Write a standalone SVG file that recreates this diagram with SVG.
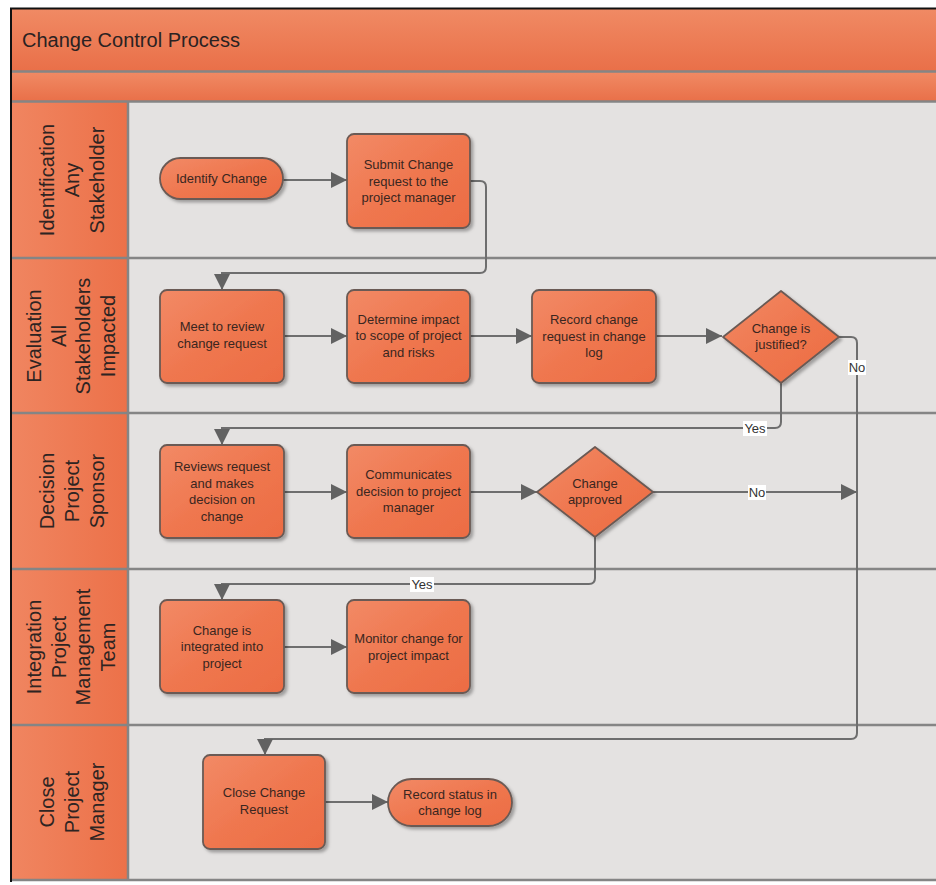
<svg xmlns="http://www.w3.org/2000/svg" width="936" height="885" viewBox="0 0 936 885">
<defs>
<linearGradient id="gBar" x1="0" y1="0" x2="0" y2="1">
<stop offset="0" stop-color="#f08a64"/>
<stop offset="1" stop-color="#e96f48"/>
</linearGradient>
<linearGradient id="gNode" x1="0" y1="0" x2="1" y2="1">
<stop offset="0" stop-color="#f28a66"/>
<stop offset="0.5" stop-color="#ef774f"/>
<stop offset="1" stop-color="#ec6c43"/>
</linearGradient>
<linearGradient id="gLane" x1="0" y1="0" x2="1" y2="0">
<stop offset="0" stop-color="#f08560"/>
<stop offset="1" stop-color="#ec7149"/>
</linearGradient>
<filter id="sh" x="-10%" y="-10%" width="130%" height="130%">
<feDropShadow dx="2.5" dy="2.5" stdDeviation="1.5" flood-color="#000" flood-opacity="0.3"/>
</filter>
<marker id="arr" viewBox="0 0 16 16" refX="16" refY="8" markerWidth="16" markerHeight="16" markerUnits="userSpaceOnUse" orient="auto">
<path d="M0,0 L16,8 L0,16 Z" fill="#626262"/>
</marker>
<style>
.node{fill:url(#gNode);stroke:#6a5a54;stroke-width:1.8;filter:url(#sh);stroke-linejoin:round}
.nt{font-family:"Liberation Sans",Arial,sans-serif;font-size:13px;fill:#3a2620;text-anchor:middle}
.lt{font-family:"Liberation Sans",Arial,sans-serif;font-size:20px;fill:#2e2422;text-anchor:middle;dominant-baseline:central}
.sep{stroke:#858585;stroke-width:2.5}
.con{fill:none;stroke:#6e6e6e;stroke-width:2}
.lbl{font-family:"Liberation Sans",Arial,sans-serif;font-size:13px;fill:#333;text-anchor:middle}
.lblbg{fill:#ffffff}
</style>
</defs>
<rect x="0" y="0" width="936" height="885" fill="#ffffff"/>
<g id="frame">
<rect x="12" y="9" width="924" height="63" fill="url(#gBar)"/>
<rect x="12" y="72" width="924" height="30" fill="url(#gBar)"/>
<rect x="128" y="102" width="808" height="778" fill="#e4e2e1"/>
<rect x="12" y="102" width="116" height="778" fill="url(#gLane)"/>
<line class="sep" x1="12" y1="71.5" x2="936" y2="71.5"/>
<line class="sep" x1="12" y1="101.5" x2="936" y2="101.5"/>
<line class="sep" x1="12" y1="258" x2="936" y2="258"/>
<line class="sep" x1="12" y1="413" x2="936" y2="413"/>
<line class="sep" x1="12" y1="569" x2="936" y2="569"/>
<line class="sep" x1="12" y1="725" x2="936" y2="725"/>
<line class="sep" x1="12" y1="880" x2="936" y2="880"/>
<line class="sep" x1="128" y1="102" x2="128" y2="880"/>
<line x1="10" y1="8.5" x2="936" y2="8.5" stroke="#111" stroke-width="2"/>
<line x1="11" y1="8" x2="11" y2="882" stroke="#111" stroke-width="2"/>
<text x="22" y="47" font-family="'Liberation Sans',Arial,sans-serif" font-size="20" fill="#2a2222">Change Control Process</text>
</g>
<g id="lane-identification">
<text class="lt" transform="translate(47,180) rotate(-90)">Identification</text>
<text class="lt" transform="translate(72,180) rotate(-90)">Any</text>
<text class="lt" transform="translate(97,180) rotate(-90)">Stakeholder</text>
</g>
<g id="lane-evaluation">
<text class="lt" transform="translate(34,336) rotate(-90)">Evaluation</text>
<text class="lt" transform="translate(59,336) rotate(-90)">All</text>
<text class="lt" transform="translate(83,336) rotate(-90)">Stakeholders</text>
<text class="lt" transform="translate(108,336) rotate(-90)">Impacted</text>
</g>
<g id="lane-decision">
<text class="lt" transform="translate(47,491) rotate(-90)">Decision</text>
<text class="lt" transform="translate(72,491) rotate(-90)">Project</text>
<text class="lt" transform="translate(97,491) rotate(-90)">Sponsor</text>
</g>
<g id="lane-integration">
<text class="lt" transform="translate(34,647) rotate(-90)">Integration</text>
<text class="lt" transform="translate(59,647) rotate(-90)">Project</text>
<text class="lt" transform="translate(83,647) rotate(-90)">Management</text>
<text class="lt" transform="translate(108,647) rotate(-90)">Team</text>
</g>
<g id="lane-close">
<text class="lt" transform="translate(47,802) rotate(-90)">Close</text>
<text class="lt" transform="translate(72,802) rotate(-90)">Project</text>
<text class="lt" transform="translate(97,802) rotate(-90)">Manager</text>
</g>
<g id="connectors">
<path class="con" d="M283,180 H347" marker-end="url(#arr)"/>
<path class="con" d="M470,181 H480 Q486,181 486,187 V267 Q486,273 480,273 H222 V290" marker-end="url(#arr)"/>
<path class="con" d="M284,336 H347" marker-end="url(#arr)"/>
<path class="con" d="M470,336 H532" marker-end="url(#arr)"/>
<path class="con" d="M656,336 H722" marker-end="url(#arr)"/>
<path class="con" d="M781,383 V422 Q781,428 775,428 H222 V445" marker-end="url(#arr)"/>
<path class="con" d="M839,337 H851 Q857,337 857,343 V733 Q857,739 851,739 H265 V755" marker-end="url(#arr)"/>
<path class="con" d="M284,492 H347" marker-end="url(#arr)"/>
<path class="con" d="M470,492 H537" marker-end="url(#arr)"/>
<path class="con" d="M653,492 H857" marker-end="url(#arr)"/>
<path class="con" d="M595,537 V578 Q595,584 589,584 H222 V600" marker-end="url(#arr)"/>
<path class="con" d="M284,647 H347" marker-end="url(#arr)"/>
<path class="con" d="M325,802 H388" marker-end="url(#arr)"/>
<rect class="lblbg" x="848" y="360" width="18" height="15"/>
<text class="lbl" x="857" y="372">No</text>
<rect class="lblbg" x="743" y="421" width="24" height="15"/>
<text class="lbl" x="755" y="433">Yes</text>
<rect class="lblbg" x="748" y="485" width="18" height="15"/>
<text class="lbl" x="757" y="497">No</text>
<rect class="lblbg" x="410" y="577" width="24" height="15"/>
<text class="lbl" x="422" y="589">Yes</text>
</g>
<g id="identify-change">
<rect class="node" x="160" y="158" width="123" height="41" rx="20.5"/>
<text class="nt" x="221.5" y="183">Identify Change</text>
</g>
<g id="submit-change">
<rect class="node" x="347" y="134" width="123" height="94" rx="7"/>
<text class="nt" x="408.5" y="169">Submit Change</text>
<text class="nt" x="408.5" y="186">request to the</text>
<text class="nt" x="408.5" y="202">project manager</text>
</g>
<g id="meet-review">
<rect class="node" x="160" y="290" width="124" height="93" rx="7"/>
<text class="nt" x="222" y="331">Meet to review</text>
<text class="nt" x="222" y="348">change request</text>
</g>
<g id="determine-impact">
<rect class="node" x="347" y="290" width="123" height="93" rx="7"/>
<text class="nt" x="408.5" y="324">Determine impact</text>
<text class="nt" x="408.5" y="340">to scope of project</text>
<text class="nt" x="408.5" y="357">and risks</text>
</g>
<g id="record-change">
<rect class="node" x="532" y="290" width="124" height="93" rx="7"/>
<text class="nt" x="594" y="324">Record change</text>
<text class="nt" x="594" y="341">request in change</text>
<text class="nt" x="594" y="357">log</text>
</g>
<g id="change-justified">
<polygon class="node" points="781,291 839,337 781,383 723,337"/>
<text class="nt" x="781" y="333">Change is</text>
<text class="nt" x="781" y="349">justified?</text>
</g>
<g id="reviews-request">
<rect class="node" x="160" y="445" width="124" height="93" rx="7"/>
<text class="nt" x="222" y="471">Reviews request</text>
<text class="nt" x="222" y="488">and makes</text>
<text class="nt" x="222" y="504">decision on</text>
<text class="nt" x="222" y="521">change</text>
</g>
<g id="communicates">
<rect class="node" x="347" y="445" width="123" height="93" rx="7"/>
<text class="nt" x="408.5" y="479">Communicates</text>
<text class="nt" x="408.5" y="496">decision to project</text>
<text class="nt" x="408.5" y="512">manager</text>
</g>
<g id="change-approved">
<polygon class="node" points="595,447 653,492 595,537 537,492"/>
<text class="nt" x="595" y="488">Change</text>
<text class="nt" x="595" y="504">approved</text>
</g>
<g id="change-integrated">
<rect class="node" x="160" y="600" width="124" height="93" rx="7"/>
<text class="nt" x="222" y="635">Change is</text>
<text class="nt" x="222" y="651">integrated into</text>
<text class="nt" x="222" y="668">project</text>
</g>
<g id="monitor-change">
<rect class="node" x="347" y="600" width="123" height="93" rx="7"/>
<text class="nt" x="408.5" y="643">Monitor change for</text>
<text class="nt" x="408.5" y="660">project impact</text>
</g>
<g id="close-change">
<rect class="node" x="203" y="755" width="122" height="94" rx="7"/>
<text class="nt" x="264" y="797">Close Change</text>
<text class="nt" x="264" y="814">Request</text>
</g>
<g id="record-status">
<rect class="node" x="388" y="779" width="124" height="47" rx="23.5"/>
<text class="nt" x="450" y="799">Record status in</text>
<text class="nt" x="450" y="815">change log</text>
</g>
</svg>
